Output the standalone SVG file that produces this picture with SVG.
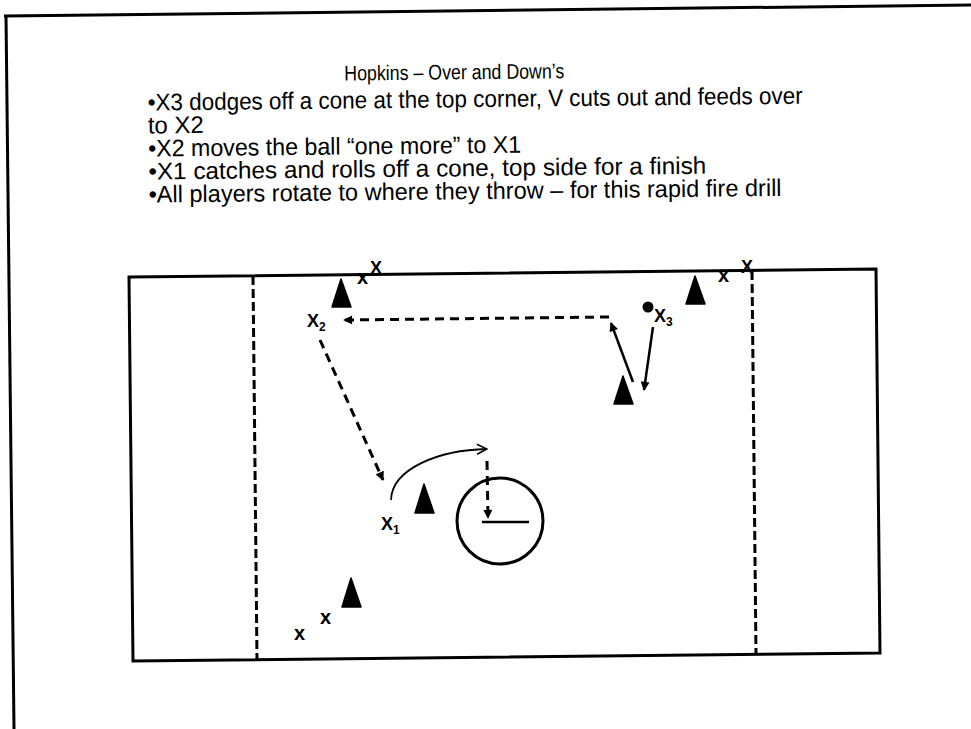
<svg xmlns="http://www.w3.org/2000/svg" width="971" height="729" viewBox="0 0 971 729">
<defs>
<style>
.t{font-family:"Liberation Sans",Arial,sans-serif;fill:#000}
.title{font-size:21px}
.body{font-size:24px}
.pl{font-family:"Liberation Sans",Arial,sans-serif;font-weight:bold;fill:#000}
.cone{fill:#000;stroke:#000;stroke-width:1.5;stroke-linejoin:round}
.edge{fill:none;stroke:#000;stroke-width:3}
.rl{fill:none;stroke:#000;stroke-width:3;stroke-dasharray:9 4}
.pass{fill:none;stroke:#000;stroke-width:3;stroke-dasharray:9 6}
.run{fill:none;stroke:#000;stroke-width:2.5}
</style>
<marker id="ah" viewBox="0 0 10 10" refX="9" refY="5" markerWidth="10" markerHeight="9" markerUnits="userSpaceOnUse" orient="auto">
<path d="M0,0 L10,5 L0,10 z" fill="#000"/>
</marker>
<marker id="oh" viewBox="0 0 12 12" refX="11" refY="6" markerWidth="12" markerHeight="12" markerUnits="userSpaceOnUse" orient="auto">
<path d="M1,1 L11,6 L1,11" fill="none" stroke="#000" stroke-width="1.5"/>
</marker>
</defs>
<rect width="971" height="729" fill="#fff"/>

<g id="frame">
<line x1="4" y1="16" x2="971" y2="5" stroke="#000" stroke-width="3"/>
<line x1="6" y1="15" x2="14" y2="729" stroke="#000" stroke-width="3"/>
</g>

<g id="text" transform="rotate(-0.6 485 140)">
<text class="t title" x="345" y="79" textLength="220" lengthAdjust="spacingAndGlyphs">Hopkins – Over and Down’s</text>
<text class="t body" x="148" y="107" textLength="655" lengthAdjust="spacingAndGlyphs">•X3 dodges off a cone at the top corner, V cuts out and feeds over</text>
<text class="t body" x="148" y="130" textLength="56" lengthAdjust="spacingAndGlyphs">to X2</text>
<text class="t body" x="148" y="153" textLength="373" lengthAdjust="spacingAndGlyphs">•X2 moves the ball “one more” to X1</text>
<text class="t body" x="148" y="176" textLength="558" lengthAdjust="spacingAndGlyphs">•X1 catches and rolls off a cone, top side for a finish</text>
<text class="t body" x="148" y="199" textLength="633" lengthAdjust="spacingAndGlyphs">•All players rotate to where they throw – for this rapid fire drill</text>
</g>

<g id="field">
<polygon class="edge" points="129,277 876,269 880,653 133,661"/>
<line class="rl" x1="253" y1="276" x2="257" y2="660"/>
<line class="rl" x1="752" y1="271" x2="756" y2="654"/>
</g>

<g id="center-circle">
<circle cx="500" cy="521" r="43" fill="none" stroke="#000" stroke-width="3"/>
<line x1="482" y1="522" x2="529" y2="522" stroke="#000" stroke-width="2.5"/>
</g>

<g id="cone-1"><polygon class="cone" points="341,279 332,307 351,307"/></g>
<g id="cone-2"><polygon class="cone" points="695,276 686,304 705,304"/></g>
<g id="cone-3"><polygon class="cone" points="623,376 614,404 633,404"/></g>
<g id="cone-4"><polygon class="cone" points="424,484 415,513 434,513"/></g>
<g id="cone-5"><polygon class="cone" points="351,578 342,607 361,607"/></g>

<g id="line-top-left">
<text class="pl" x="357" y="284" font-size="20">x</text>
<text class="pl" x="370" y="274" font-size="18">X</text>
</g>
<g id="line-top-right">
<text class="pl" x="718" y="282" font-size="20">x</text>
<text class="pl" x="741" y="273" font-size="18">X</text>
</g>
<g id="line-bottom-left">
<text class="pl" x="320" y="624" font-size="20">x</text>
<text class="pl" x="294" y="640" font-size="20">x</text>
</g>

<g id="player-x2">
<text class="pl" x="307" y="327" font-size="18">X<tspan font-size="12" dy="4">2</tspan></text>
</g>
<g id="player-x3">
<text class="pl" x="654" y="322" font-size="18">X<tspan font-size="12" dy="4">3</tspan></text>
</g>
<g id="player-x1">
<text class="pl" x="381" y="530" font-size="18">X<tspan font-size="12" dy="4">1</tspan></text>
</g>
<g id="ball"><circle cx="648" cy="307" r="5.5" fill="#000"/></g>

<g id="connectors">
<line class="pass" x1="609" y1="317" x2="344" y2="320" marker-end="url(#ah)"/>
<line class="pass" x1="320" y1="340" x2="383" y2="480" marker-end="url(#ah)"/>
<line class="run" x1="633" y1="382" x2="611" y2="323" marker-end="url(#ah)"/>
<line class="run" x1="653" y1="327" x2="644" y2="390" marker-end="url(#ah)"/>
<path d="M391,500 C392,468 440,450 487,449" fill="none" stroke="#000" stroke-width="1.8" marker-end="url(#oh)"/>
<line class="pass" x1="487" y1="461" x2="488" y2="518" marker-end="url(#ah)"/>
</g>
</svg>
